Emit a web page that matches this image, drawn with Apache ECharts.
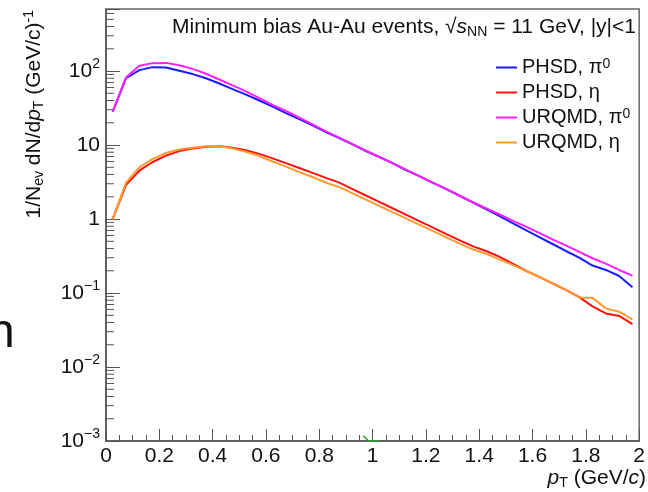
<!DOCTYPE html>
<html><head><meta charset="utf-8">
<script src="https://cdn.jsdelivr.net/npm/echarts@6/dist/echarts.min.js"></script>
<style>html,body{margin:0;padding:0;background:#fff}#c{width:648px;height:492px}</style>
</head><body><div id="c"></div>
<script>
// ---- data ----
const pT = [0.025,0.075,0.125,0.175,0.225,0.275,0.325,0.375,0.425,0.475,
            0.525,0.575,0.625,0.675,0.725,0.775,0.825,0.875,0.925,0.975,
            1.025,1.075,1.125,1.175,1.225,1.275,1.325,1.375,1.425,1.475,
            1.525,1.575,1.625,1.675,1.725,1.775,1.825,1.875,1.925,1.975];
const phsdPi0 = [28,80,103,113,112,101,91,80,68,57,
                 48,40,33,27,22.5,18.5,15,12.4,10.2,8.3,
                 6.9,5.7,4.6,3.8,3.1,2.55,2.08,1.68,1.36,1.10,
                 0.88,0.71,0.57,0.46,0.37,0.30,0.235,0.205,0.17,0.12];
const phsdEta = [1.0,2.9,4.5,5.9,7.2,8.3,9.0,9.5,9.6,9.2,
                 8.5,7.6,6.6,5.7,4.9,4.2,3.6,3.1,2.54,2.08,
                 1.71,1.40,1.15,0.94,0.77,0.63,0.52,0.43,0.37,0.31,
                 0.25,0.20,0.165,0.135,0.11,0.088,0.066,0.053,0.049,0.038];
const urqmdPi0 = [28,82,118,128,129,120,107,92,77,64,
                  53,43,35,29,23.5,19,15.3,12.6,10.3,8.4,
                  6.9,5.7,4.65,3.8,3.1,2.55,2.08,1.70,1.40,1.16,
                  0.95,0.79,0.65,0.53,0.44,0.36,0.295,0.25,0.205,0.172];
const urqmdEta = [1.0,3.1,5.0,6.5,7.8,8.7,9.2,9.6,9.6,9.0,
                  8.1,7.1,6.0,5.1,4.3,3.7,3.1,2.7,2.22,1.83,
                  1.51,1.24,1.02,0.84,0.69,0.57,0.47,0.39,0.34,0.285,
                  0.24,0.20,0.165,0.135,0.11,0.087,0.086,0.062,0.056,0.044];
const strayX = [0.965,0.985,1.025];
const strayY = [0.00118,0.001,0.001];
const seriesNames = ['PHSD, π0','PHSD, η','URQMD, π0','URQMD, η'];
const legendLabels = {'PHSD, π0':'PHSD, π{sup|0}','PHSD, η':'PHSD, η','URQMD, π0':'URQMD, π{sup|0}','URQMD, η':'URQMD, η'};
const yTickLabels = {'-3':'10{sup|−3}','-2':'10{sup|−2}','-1':'10{sup|−1}','0':'1','1':'10','2':'10{sup|2}'};
const minorMultipliers = [2,3,4,5,6,7,8,9];
const decades = [-3,-2,-1,0,1,2];
const yMin = 0.001, yMax = 690;

const FONT = '"Liberation Sans", Arial, Helvetica, sans-serif';
const chart = echarts.init(document.getElementById('c'), null, {renderer:'canvas'});
const pairs = ys => pT.map((x,i)=>[x, ys[i]]);
const minorTicks = [];
decades.forEach(d => minorMultipliers.forEach(m => { const v = m*Math.pow(10,d); if (v < yMax) minorTicks.push([0, v]); }));

const supStyle = {fontSize:14, fontFamily:FONT, color:'#111', verticalAlign:'top', lineHeight:12};
const subStyle = {fontSize:14, fontFamily:FONT, color:'#111', verticalAlign:'bottom', lineHeight:12};
const itStyle = {fontSize:21, fontFamily:FONT, color:'#111', fontStyle:'italic'};

function lineSeries(name, ys, color) {
  return {name, type:'line', data:pairs(ys), showSymbol:false, symbol:'none',
    lineStyle:{color, width:2}, itemStyle:{color}, z:3};
}

chart.setOption({
  animation:false,
  backgroundColor:'#fff',
  grid:{left:106, right:7, top:9, bottom:51, show:true, borderColor:'#666', borderWidth:1.5},
  xAxis:{type:'value', min:0, max:2, interval:0.2,
    axisLine:{show:true, lineStyle:{color:'#555', width:1.5}},
    axisTick:{show:true, inside:true, length:12, lineStyle:{color:'#555'}},
    minorTick:{show:true, splitNumber:4, length:6, lineStyle:{color:'#555'}},
    splitLine:{show:false},
    axisLabel:{fontFamily:FONT, fontSize:21, color:'#111', margin:5,
      formatter: v => String(Math.round(v*10)/10)}},
  yAxis:{type:'log', logBase:10, min:yMin, max:yMax,
    axisLine:{show:true, lineStyle:{color:'#555', width:1.5}},
    axisTick:{show:true, inside:true, length:14, lineStyle:{color:'#555'}},
    splitLine:{show:false},
    axisLabel:{fontFamily:FONT, fontSize:21, color:'#111', margin:6, lineHeight:28,
      showMaxLabel:true,
      rich:{sup:supStyle},
      formatter: v => { const l = Math.log10(v); const e = Math.round(l); if (Math.abs(l-e) > 1e-6) return ''; return yTickLabels[String(e)] || ''; }}},
  legend:{orient:'vertical', left:491, top:52, itemWidth:21, itemHeight:2, itemGap:4, icon:'rect',
    data:seriesNames,
    textStyle:{fontFamily:FONT, fontSize:20, color:'#111', lineHeight:21, rich:{sup:supStyle}},
    formatter: n => legendLabels[n]},
  series:[
    lineSeries(seriesNames[0], phsdPi0, '#1a1aff'),
    lineSeries(seriesNames[1], phsdEta, '#ff1010'),
    lineSeries(seriesNames[2], urqmdPi0, '#ff20ff'),
    lineSeries(seriesNames[3], urqmdEta, '#ff9a30'),
    {name:'stray', type:'line', data:strayX.map((x,i)=>[x, strayY[i]]), symbol:'none',
      lineStyle:{color:'#22aa22', width:1.5}, silent:true, z:2},
    {name:'minor', type:'custom', data:minorTicks, silent:true, z:1,
      renderItem:(params, api) => { const p = api.coord([0, api.value(1)]);
        return {type:'line', shape:{x1:p[0], y1:p[1], x2:p[0]+8, y2:p[1]}, style:{stroke:'#555', lineWidth:1}}; }}
  ],
  graphic:[
    {type:'text', x:636, y:27, style:{text:'Minimum bias Au-Au events, {rad|√}{it|s}{sub|NN} = 11 GeV, |y|<1',
      fontFamily:FONT, fontSize:21, fill:'#111', align:'right', verticalAlign:'middle', lineHeight:24,
      rich:{rad:{fontSize:21, fontFamily:FONT, color:'#111'}, it:itStyle, sub:subStyle}}},
    {type:'text', x:646, y:478, style:{text:'{it|p}{sub|T} (GeV/{it|c})',
      fontFamily:FONT, fontSize:21, fill:'#111', align:'right', verticalAlign:'middle', lineHeight:24,
      rich:{it:itStyle, sub:subStyle}}},
    {type:'text', x:46, y:10, rotation:Math.PI/2, style:{text:'1/N{sub|ev} dN/d{it|p}{sub|T} (GeV/c){sup|-1}',
      fontFamily:FONT, fontSize:21, fill:'#111', align:'right', verticalAlign:'bottom', lineHeight:24,
      rich:{it:itStyle, sub:subStyle, sup:supStyle}}},
    {type:'text', x:-12, y:334, style:{text:'n', fontFamily:FONT, fontSize:48, fill:'#111', align:'left', verticalAlign:'middle'}}
  ]
});
</script></body></html>
